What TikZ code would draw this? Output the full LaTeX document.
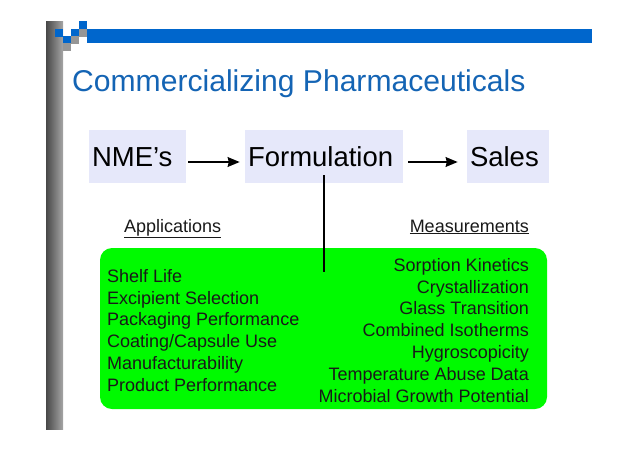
\documentclass[tikz,border=0pt]{standalone}
\usepackage{fontspec}
\setmainfont{Liberation Sans}
\usetikzlibrary{arrows.meta,positioning}
\definecolor{slideblue}{RGB}{0,102,204}
\definecolor{titleblue}{RGB}{20,100,180}
\definecolor{slidegray}{RGB}{150,150,150}
\definecolor{stagefill}{RGB}{230,232,250}
\definecolor{notegreen}{RGB}{0,250,0}

\begin{document}
\begin{tikzpicture}[x=1pt,y=-1pt]
    \tikzset{stagebox/.style={fill=stagefill, minimum height=53pt, text height=20pt, text depth=0pt, inner xsep=3pt, align=left, font=\fontsize{27.5}{30}\selectfont}}
    \tikzset{flow/.style={line width=2.4pt, -{Stealth[length=12pt,width=9.5pt,inset=1pt]}}}
    \tikzset{listtext/.style={inner sep=0pt, text=black!90, font=\fontsize{18}{21.8}\selectfont}}
    \useasboundingbox (0,0) rectangle (638,451);
    % slide frame
    \shade[left color=black!72, right color=black!35] (46,21) rectangle (63,429);
    \fill[slideblue] (87,29) rectangle (592,43);
    \foreach \x/\y in {79/21, 55/29, 71/29, 63/36}
      \fill[slideblue] (\x,\y) rectangle ++(8,7.5);
    \foreach \x/\y in {79/29, 71/36, 63/43}
      \fill[slidegray] (\x,\y) rectangle ++(8,7.5);
    \node[anchor=base west, inner sep=0pt, text=titleblue, font=\fontsize{30.1}{34}\selectfont] (title) at (72,91) {Commercializing Pharmaceuticals};
    % stages
    \node[stagebox, text width=91pt] (nme) at (137.5,156.5) {NME’s};
    \node[stagebox, text width=152pt] (form) at (324,156.5) {Formulation};
    \node[stagebox, text width=76pt] (sales) at (508,156.5) {Sales};
    \draw[flow] ([xshift=2pt,yshift=-5.5pt]nme.east) -- ([xshift=-5pt,yshift=-5.5pt]form.west);
    \draw[flow] ([xshift=5pt,yshift=-5.5pt]form.east) -- ([xshift=-9pt,yshift=-5.5pt]sales.west);
    % headings
    \node[listtext, anchor=base west] (apps) at (124,232) {\underline{Applications}};
    \node[listtext, anchor=base east] (meas) at (529,232) {\underline{Measurements}};
    % notes
    \node[fill=notegreen, rounded corners=12pt, minimum width=447pt, minimum height=161pt] (notes) at (323.5,328.5) {};
    \coordinate (stemend) at (form.south |- 0,272);
    \draw[line width=2pt] ([yshift=8pt]form.south) -- (stemend);
    \node[listtext, anchor=north west, align=left] (applist) at (107,269) {Shelf Life\\Excipient Selection\\Packaging Performance\\Coating/Capsule Use\\Manufacturability\\Product Performance};
    \node[listtext, anchor=north east, align=right] (measlist) at (529,258) {Sorption Kinetics\\Crystallization\\Glass Transition\\Combined Isotherms\\Hygroscopicity\\Temperature Abuse Data\\Microbial Growth Potential};
\end{tikzpicture}
\end{document}
